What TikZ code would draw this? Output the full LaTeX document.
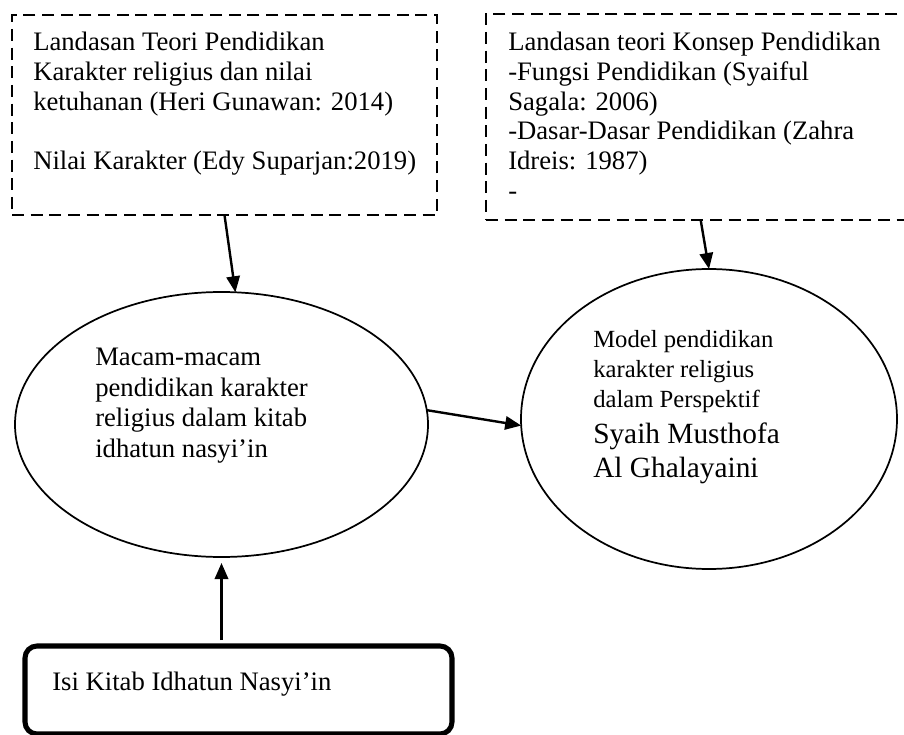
\documentclass[tikz,border=0pt]{standalone}
\usepackage{fontspec}
\setmainfont{Liberation Serif}
\usetikzlibrary{arrows.meta}
\usetikzlibrary{shapes.geometric}

\tikzset{
  dashbox/.style={draw, rectangle, line width=1.9pt, dash pattern=on 9pt off 5pt, inner sep=0pt, outer sep=0pt, anchor=north west},
  oval/.style={draw, ellipse, line width=1.3pt, inner sep=0pt, outer sep=0pt},
  thickbox/.style={draw, rectangle, rounded corners=9pt, line width=3.8pt, inner sep=0pt, outer sep=0pt, anchor=north west},
  txt/.style={align=left, inner sep=0pt, anchor=north west, font=\fontsize{20}{22.3}\selectfont},
  arr/.style={-{Triangle[length=12pt,width=10pt]}, line width=1.8pt},
}

\begin{document}
\begin{tikzpicture}[x=0.75pt,y=-0.75pt]
\useasboundingbox (0,0) rectangle (904,735);
\clip (0,0) rectangle (904,735);

\node[dashbox, minimum width=318.75pt, minimum height=150pt](lbox) at (12,15) {};
\node[dashbox, minimum width=322pt, minimum height=154.5pt](rbox) at (486,14) {};

\node[oval, minimum width=309.75pt, minimum height=198.75pt](lell) at (221.5,424.5) {};
\node[oval, minimum width=282pt, minimum height=225pt](rell) at (709,419) {};

\node[thickbox, minimum width=320.25pt, minimum height=66pt](ibox) at (25,646) {};

\node[txt](ltxt) at (33,32) {Landasan Teori Pendidikan\\Karakter religius dan nilai\\ketuhanan (Heri Gunawan: 2014)\\[22.3pt]Nilai Karakter (Edy Suparjan:2019)};

\node[txt](rtxt) at (508,32) {Landasan teori Konsep Pendidikan\\-Fungsi Pendidikan (Syaiful\\Sagala: 2006)\\-Dasar-Dasar Pendidikan (Zahra\\Idreis: 1987)\\-};

\node[txt, font=\fontsize{20}{22.9}\selectfont](lelltxt) at (95,348) {Macam-macam\\pendidikan karakter\\religius dalam kitab\\idhatun nasyi’in};

\node[txt, font=\fontsize{18.5}{22.5}\selectfont](relltxt) at (593,330) {Model pendidikan\\karakter religius\\dalam Perspektif};
\node[txt, font=\fontsize{22}{25.5}\selectfont](rellname) at (593,423) {Syaih Musthofa\\Al Ghalayaini};

\node[txt](itxt) at (52,672) {Isi Kitab Idhatun Nasyi’in};

\foreach \from/\to in {lbox.south/lell.84, rbox.south/rell.north, lell.4/rell.182}
    \draw[arr] (\from) -- (\to);

\draw[arr, shorten <=4.5pt, shorten >=4.5pt] (ibox.north -| lell.south) -- (lell.south);

\end{tikzpicture}
\end{document}
